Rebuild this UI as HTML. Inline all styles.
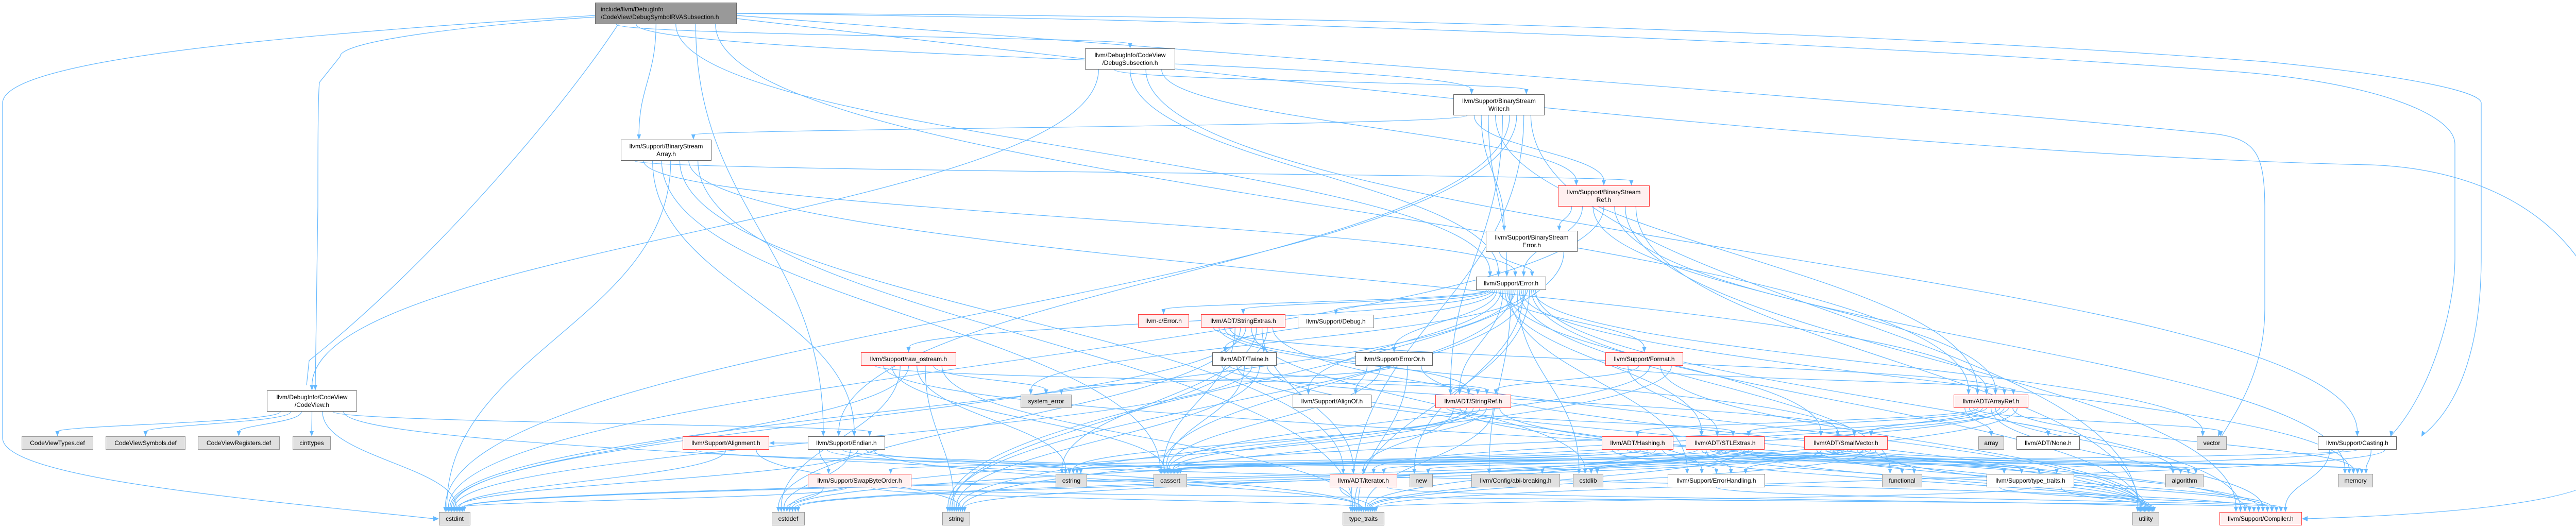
<!DOCTYPE html>
<html><head><meta charset="utf-8">
<style>
html,body{margin:0;padding:0;background:#fff;}
#wrap{position:relative;width:5074px;height:1025px;overflow:hidden;background:#fff;}
svg{position:absolute;left:0;top:0;}
.n{position:absolute;box-sizing:border-box;border:1.5px solid #666;background:#fff;font-family:"Liberation Sans",sans-serif;font-size:12px;color:#000;display:flex;align-items:center;justify-content:center;text-align:center;line-height:15px;white-space:nowrap;}
.g{background:#e0e0e0;border-color:#999;}
.r{background:#fff0f0;border-color:#ff4040;}
.root{background:#999;border-color:#666;justify-content:flex-start;text-align:left;padding-left:10px;}
</style></head><body>
<div id="wrap">
<svg id="edges" width="5074" height="1025" xmlns="http://www.w3.org/2000/svg"></svg>
<div class="n root" id="root" style="left:1155px;top:5px;width:275px;height:42px">include/llvm/DebugInfo<br>/CodeView/DebugSymbolRVASubsection.h</div>
<div class="n" id="dsub" style="left:2106px;top:94px;width:175px;height:41px">llvm/DebugInfo/CodeView<br>/DebugSubsection.h</div>
<div class="n" id="bsw" style="left:2821px;top:183px;width:177px;height:41px">llvm/Support/BinaryStream<br>Writer.h</div>
<div class="n" id="bsa" style="left:1205px;top:271px;width:176px;height:41px">llvm/Support/BinaryStream<br>Array.h</div>
<div class="n r" id="bsr" style="left:3024px;top:360px;width:178px;height:41px">llvm/Support/BinaryStream<br>Ref.h</div>
<div class="n" id="bse" style="left:2884px;top:448px;width:178px;height:41px">llvm/Support/BinaryStream<br>Error.h</div>
<div class="n" id="err" style="left:2865px;top:537px;width:136px;height:26px">llvm/Support/Error.h</div>
<div class="n" id="cv" style="left:518px;top:758px;width:175px;height:41px">llvm/DebugInfo/CodeView<br>/CodeView.h</div>
<div class="n g" id="cvt" style="left:42px;top:847px;width:139px;height:26px">CodeViewTypes.def</div>
<div class="n g" id="cvs" style="left:205px;top:847px;width:155px;height:26px">CodeViewSymbols.def</div>
<div class="n g" id="cvr" style="left:384px;top:847px;width:159px;height:26px">CodeViewRegisters.def</div>
<div class="n g" id="cint" style="left:568px;top:847px;width:74px;height:26px">cinttypes</div>
<div class="n g" id="cstdint" style="left:852px;top:994px;width:61px;height:26px">cstdint</div>
<div class="n r" id="lce" style="left:2209px;top:610px;width:99px;height:26px">llvm-c/Error.h</div>
<div class="n r" id="sx" style="left:2331px;top:610px;width:164px;height:26px">llvm/ADT/StringExtras.h</div>
<div class="n" id="dbg" style="left:2519px;top:611px;width:148px;height:26px">llvm/Support/Debug.h</div>
<div class="n r" id="ros" style="left:1671px;top:684px;width:185px;height:26px">llvm/Support/raw_ostream.h</div>
<div class="n" id="tw" style="left:2353px;top:684px;width:125px;height:26px">llvm/ADT/Twine.h</div>
<div class="n" id="eor" style="left:2631px;top:684px;width:150px;height:26px">llvm/Support/ErrorOr.h</div>
<div class="n r" id="fmt" style="left:3116px;top:684px;width:151px;height:26px">llvm/Support/Format.h</div>
<div class="n g" id="se" style="left:1981px;top:766px;width:99px;height:26px">system_error</div>
<div class="n" id="ao" style="left:2509px;top:766px;width:153px;height:26px">llvm/Support/AlignOf.h</div>
<div class="n r" id="sr" style="left:2786px;top:766px;width:147px;height:26px">llvm/ADT/StringRef.h</div>
<div class="n r" id="ar" style="left:3792px;top:766px;width:145px;height:26px">llvm/ADT/ArrayRef.h</div>
<div class="n r" id="al" style="left:1325px;top:847px;width:168px;height:26px">llvm/Support/Alignment.h</div>
<div class="n" id="en" style="left:1568px;top:847px;width:150px;height:26px">llvm/Support/Endian.h</div>
<div class="n r" id="hs" style="left:3109px;top:847px;width:139px;height:26px">llvm/ADT/Hashing.h</div>
<div class="n r" id="stl" style="left:3272px;top:847px;width:153px;height:26px">llvm/ADT/STLExtras.h</div>
<div class="n r" id="sv" style="left:3502px;top:847px;width:162px;height:26px">llvm/ADT/SmallVector.h</div>
<div class="n g" id="arr" style="left:3840px;top:847px;width:50px;height:26px">array</div>
<div class="n" id="none" style="left:3914px;top:847px;width:123px;height:26px">llvm/ADT/None.h</div>
<div class="n g" id="vec" style="left:4264px;top:847px;width:58px;height:26px">vector</div>
<div class="n" id="cast" style="left:4499px;top:847px;width:153px;height:26px">llvm/Support/Casting.h</div>
<div class="n r" id="sbo" style="left:1568px;top:920px;width:201px;height:26px">llvm/Support/SwapByteOrder.h</div>
<div class="n g" id="cstring" style="left:2049px;top:920px;width:61px;height:26px">cstring</div>
<div class="n g" id="cassert" style="left:2239px;top:920px;width:65px;height:26px">cassert</div>
<div class="n r" id="it" style="left:2581px;top:920px;width:131px;height:26px">llvm/ADT/iterator.h</div>
<div class="n g" id="new" style="left:2736px;top:920px;width:45px;height:26px">new</div>
<div class="n g" id="abi" style="left:2856px;top:920px;width:172px;height:26px">llvm/Config/abi-breaking.h</div>
<div class="n g" id="cstdlib" style="left:3053px;top:920px;width:59px;height:26px">cstdlib</div>
<div class="n" id="eh" style="left:3237px;top:920px;width:189px;height:26px">llvm/Support/ErrorHandling.h</div>
<div class="n g" id="func" style="left:3653px;top:920px;width:78px;height:26px">functional</div>
<div class="n" id="tth" style="left:3856px;top:920px;width:170px;height:26px">llvm/Support/type_traits.h</div>
<div class="n g" id="algo" style="left:4203px;top:920px;width:74px;height:26px">algorithm</div>
<div class="n g" id="mem" style="left:4538px;top:920px;width:68px;height:26px">memory</div>
<div class="n g" id="cstddef" style="left:1498px;top:994px;width:64px;height:26px">cstddef</div>
<div class="n g" id="str" style="left:1829px;top:994px;width:54px;height:26px">string</div>
<div class="n g" id="tt" style="left:2606px;top:994px;width:81px;height:26px">type_traits</div>
<div class="n g" id="util" style="left:4139px;top:994px;width:52px;height:26px">utility</div>
<div class="n r" id="comp" style="left:4308px;top:994px;width:160px;height:26px">llvm/Support/Compiler.h</div>
</div>
<script>
(function(){
var E={
root:["dsub","bsw","bsa","err","en","ar"],
dsub:["cv","bsw","err","cast","bsr"],
bsw:["bsa","bsr","bse","err","ar","sr","en","cstdint","tt","util"],
bsa:["bsr","err","en","cassert","cstdint","it","ar","tt"],
bsr:["bse","err","ar","cstdint","mem","comp","util"],
bse:["err","str"],
err:["lce","sx","dbg","ros","tw","eor","fmt","ao","sr","stl","sv","eh","abi","cassert","cstdint","cstdlib","func","mem","new","str","se","tt","util","vec","comp"],
sx:["ar","sv","sr","tw","cassert","cstddef","cstdint","cstdlib","cstring","it","str","util"],
ros:["sr","comp","cassert","cstddef","cstdint","cstring","str","se","tt"],
tw:["sv","sr","eh","cassert","cstdint","str","util"],
eor:["ao","cassert","se","tt","util"],
fmt:["ar","stl","sr","cassert","util","str"],
cv:["cvt","cvs","cvr","cint","cstdint","en","tt"],
en:["sbo","comp","al","cassert","cstddef","cstdint","cstring","tt"],
al:["cassert","cstdint","str"],
sbo:["cstddef","cstdint","tt","comp"],
sr:["stl","it","comp","cassert","cstddef","cstring","str","tt","util"],
ar:["arr","none","vec","hs","sv","stl","comp","algo","cassert","cstddef","it","mem","tt"],
hs:["eh","sbo","tth","algo","cassert","cstring","str","util"],
stl:["it","comp","eh","tth","algo","cassert","cstddef","cstdint","cstdlib","func","mem","tt","util","abi"],
sv:["comp","eh","tth","algo","cassert","cstddef","cstdint","cstdlib","cstring","func","mem","new","tt","util"],
it:["tt","util"],
eh:["comp"],
tth:["comp","tt","util"],
cast:["comp","tth","cassert","mem","tt"]
};
function box(id){var e=document.getElementById(id);return{x:e.offsetLeft,y:e.offsetTop,w:e.offsetWidth,h:e.offsetHeight};}
var svg=document.getElementById('edges'),out="",C="#63b8ff",W="1.2";
function P(d){out+='<path d="'+d+'" fill="none" stroke="'+C+'" stroke-width="'+W+'"/>';}
function A(pts){out+='<polygon points="'+pts+'" fill="'+C+'"/>';}
/* long custom routes from root */
P("M1155,30 C500,70 5,120 5,200 L5,850 C5,930 500,970 842,1007");A("852,1007 841,1002 841,1012");
P("M1155,33 C900,50 660,80 660,110 L620,160 C617,190 617,300 617,400 L612,748");A("612,758 608,747 616,747");
P("M1430,26 C2600,30 3600,60 4400,120 C4700,150 4816,180 4816,200 L4816,500 C4816,700 4760,800 4700,847");A("4700,847 4701,836 4708,841");
P("M1430,26 C2600,40 3700,90 4350,140 C4600,160 4765,220 4765,280 L4765,500 C4765,600 4720,760 4640,847");A("4640,847 4638,836 4646,838");
P("M1430,30 C2600,120 3700,200 4300,260 C4380,270 4395,300 4396,400 L4396,600 C4396,720 4340,800 4312,847");A("4305,847 4306,836 4314,839");
P("M1430,36 C2400,150 3700,300 4600,320 C4900,330 5067,500 5067,700 L5067,900 C5067,980 4700,1000 4478,1007");A("4468,1007 4479,1002 4479,1012");
P("M1200,47 C1100,200 850,500 600,700 L595,748");
var inCount={},inIdx={};
for(var s in E)E[s].forEach(function(t){inCount[t]=(inCount[t]||0)+1;});
for(var s in E){var sb=box(s),L=E[s].length;
 E[s].forEach(function(t,i){
  var tb=box(t);inIdx[t]=(inIdx[t]||0)+1;
  var sx=sb.x+sb.w*(0.15+0.7*(L>1?i/(L-1):0.5)),sy=sb.y+sb.h;
  var n=inCount[t],k=inIdx[t]-1;
  var tx=tb.x+tb.w*(0.2+0.6*(n>1?k/(n-1):0.5)),ty=tb.y;
  var dx;
  if(Math.abs(tb.y-sb.y)<5){
    sy=sb.y+sb.h/2;ty=tb.y+tb.h/2;
    if(tb.x>sb.x){sx=sb.x+sb.w;tx=tb.x;}else{sx=sb.x;tx=tb.x+tb.w;}
    dx=tx>sx?1:-1;
    P("M"+sx+","+sy+" L"+(tx-dx*9)+","+ty);
    A(tx+","+ty+" "+(tx-dx*10)+","+(ty-4)+" "+(tx-dx*10)+","+(ty+4));
    return;}
  if(tb.y>=sb.y+sb.h-2){
   var d=ty-sy,c1y=sy+d*0.45,c2y=ty-d*0.45;
   P("M"+sx.toFixed(1)+","+sy+" C"+sx.toFixed(1)+","+c1y.toFixed(1)+" "+tx.toFixed(1)+","+c2y.toFixed(1)+" "+tx.toFixed(1)+","+(ty-9));
   A(tx.toFixed(1)+","+ty+" "+(tx-4).toFixed(1)+","+(ty-10)+" "+(tx+4).toFixed(1)+","+(ty-10));
  } else {
   sy=sb.y;ty=tb.y+tb.h;var d2=sy-ty;
   P("M"+sx.toFixed(1)+","+sy+" C"+sx.toFixed(1)+","+(sy-d2*0.45)+" "+tx.toFixed(1)+","+(ty+d2*0.45)+" "+tx.toFixed(1)+","+(ty+9));
   A(tx.toFixed(1)+","+ty+" "+(tx-4).toFixed(1)+","+(ty+10)+" "+(tx+4).toFixed(1)+","+(ty+10));
  }
 });
}
svg.innerHTML=out;
})();
</script>
</body></html>
